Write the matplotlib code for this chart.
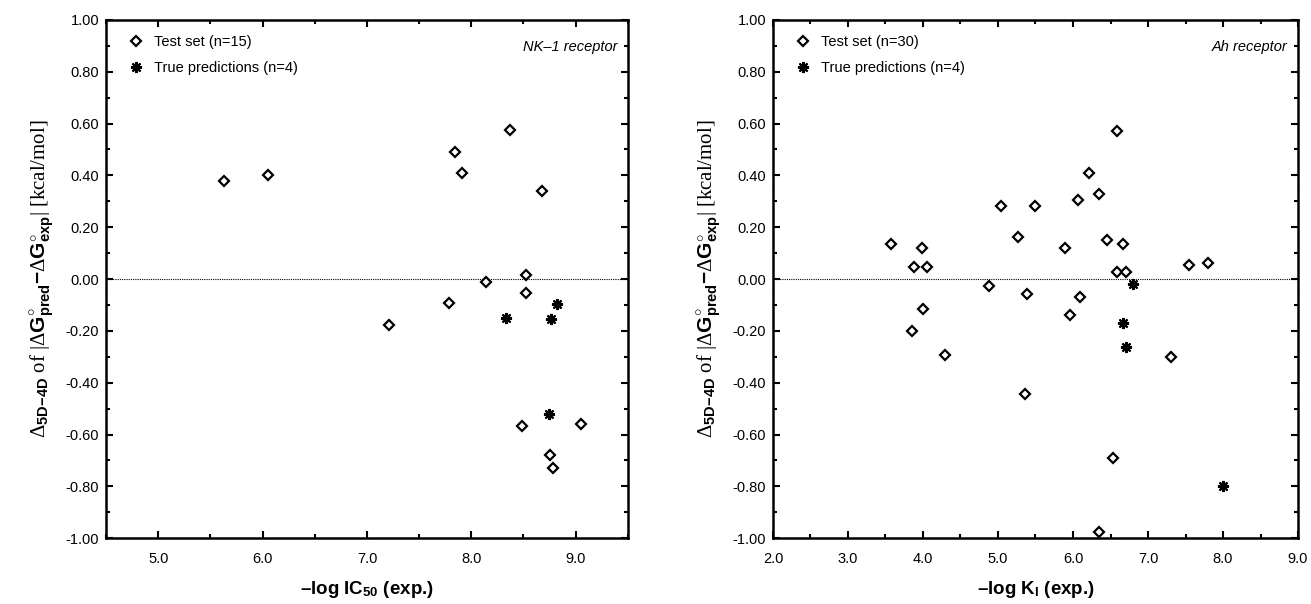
import matplotlib
matplotlib.use("Agg")
import matplotlib.pyplot as plt
from matplotlib.ticker import MultipleLocator, FormatStrFormatter

# NK-1 receptor panel
nk_test_x = [5.63, 6.05, 7.84, 7.91, 8.37, 8.68, 8.52, 8.14, 8.52, 7.79, 7.21, 8.49, 9.05, 8.75, 8.78]
nk_test_y = [0.38, 0.40, 0.49, 0.41, 0.575, 0.34, 0.015, -0.013, -0.055, -0.094, -0.177, -0.568, -0.56, -0.68, -0.73]
nk_true_x = [8.33, 8.76, 8.82, 8.74]
nk_true_y = [-0.151, -0.155, -0.096, -0.52]

# Ah receptor panel
ah_test_x = [3.58, 3.99, 3.88, 4.06, 3.995, 3.85, 4.30, 4.88, 5.04, 5.49, 5.27, 5.39, 5.36, 5.89, 5.96,
             6.10, 6.07, 6.455, 6.665, 6.58, 6.71, 6.53, 6.22, 6.35, 6.58, 6.35, 7.54, 7.80, 7.30]
ah_test_y = [0.137, 0.118, 0.046, 0.046, -0.117, -0.199, -0.292, -0.028, 0.282, 0.282, 0.163, -0.058, -0.442, 0.118, -0.138,
             -0.068, 0.304, 0.151, 0.135, 0.028, 0.026, -0.69, 0.41, 0.33, 0.57, -0.975, 0.055, 0.062, -0.30]
ah_true_x = [6.80, 6.67, 6.71, 8.00]
ah_true_y = [-0.02, -0.17, -0.263, -0.80]

plt.rcParams['font.family'] = ['Liberation Sans', 'DejaVu Sans']
plt.rcParams['mathtext.fontset'] = 'custom'
plt.rcParams['mathtext.rm'] = 'Liberation Serif'
plt.rcParams['mathtext.bf'] = 'Liberation Sans:bold'
plt.rcParams['mathtext.it'] = 'Liberation Serif:italic'

ylabel = r'$\mathrm{\Delta}_{\mathbf{5D\!-\!4D}}\ \mathrm{of}\ |\mathrm{\Delta}\mathbf{G}^{\circ}_{\mathbf{pred}}\mathbf{-}\mathrm{\Delta}\mathbf{G}^{\circ}_{\mathbf{exp}}|\ \mathrm{[kcal/mol]}$'

fig = plt.figure(figsize=(13.11, 6.04), dpi=100)
ax1 = fig.add_axes([0.0809, 0.109, 0.398, 0.858])
ax2 = fig.add_axes([0.5896, 0.109, 0.4005, 0.858])


def style_axes(ax, xlim, xlabel, title):
    ax.axhline(0, color='black', linestyle=(0, (1, 1)), linewidth=0.8, zorder=1)
    ax.set_xlim(*xlim)
    ax.set_ylim(-1.0, 1.0)
    ax.xaxis.set_major_locator(MultipleLocator(1.0))
    ax.xaxis.set_minor_locator(MultipleLocator(0.5))
    ax.yaxis.set_major_locator(MultipleLocator(0.2))
    ax.yaxis.set_minor_locator(MultipleLocator(0.1))
    ax.xaxis.set_major_formatter(FormatStrFormatter('%.1f'))
    ax.yaxis.set_major_formatter(FormatStrFormatter('%.2f'))
    ax.tick_params(which='both', direction='in', top=True, right=True, width=1.5, labelsize=10.5)
    ax.tick_params(which='major', length=5)
    ax.tick_params(which='minor', length=3)
    ax.tick_params(axis='x', pad=10)
    ax.tick_params(axis='y', pad=5)
    for s in ax.spines.values():
        s.set_linewidth(1.8)
    ax.set_xlabel(xlabel, fontsize=13.5, fontweight='bold', labelpad=9)
    ax.set_ylabel(ylabel, fontsize=15, labelpad=7)
    ax.text(0.98, 0.962, title, transform=ax.transAxes, ha='right', va='top',
            fontsize=10.5, style='italic')
    ax.legend(loc='upper left', bbox_to_anchor=(0.03, 0.982), frameon=False, fontsize=10.5,
              handletextpad=0.6, borderaxespad=0.0, labelspacing=0.85, handlelength=1.2)


ax1.plot(nk_test_x, nk_test_y, linestyle='none', marker='D', markersize=5.5, markerfacecolor='white',
         markeredgecolor='black', markeredgewidth=1.6, label='Test set (n=15)', zorder=3)
ax1.plot(nk_true_x, nk_true_y, linestyle='none', marker=(8, 2, 0), markersize=8, color='black',
         markeredgewidth=1.5, label='True predictions (n=4)', zorder=3)
style_axes(ax1, (4.5, 9.5), '\u2013log IC$_{\\mathbf{50}}$ (exp.)', 'NK\u20131 receptor')

ax2.plot(ah_test_x, ah_test_y, linestyle='none', marker='D', markersize=5.5, markerfacecolor='white',
         markeredgecolor='black', markeredgewidth=1.6, label='Test set (n=30)', zorder=3)
ax2.plot(ah_true_x, ah_true_y, linestyle='none', marker=(8, 2, 0), markersize=8, color='black',
         markeredgewidth=1.5, label='True predictions (n=4)', zorder=3)
style_axes(ax2, (2.0, 9.0), '\u2013log K$_{\\mathbf{I}}$ (exp.)', 'Ah receptor')

fig.savefig('out.png', dpi=100)
